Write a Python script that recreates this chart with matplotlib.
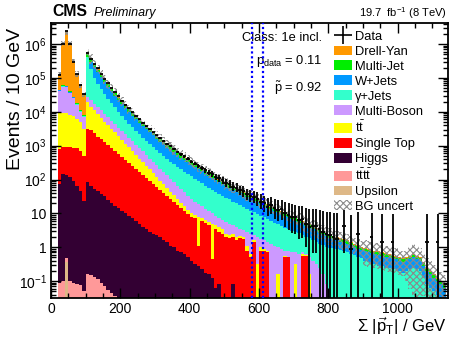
import numpy as np
import matplotlib
matplotlib.use('Agg')
import matplotlib.pyplot as plt
from matplotlib.patches import Patch
from matplotlib.lines import Line2D
from matplotlib.ticker import MultipleLocator, LogLocator, NullFormatter

plt.rcParams['font.family'] = ['Liberation Sans', 'DejaVu Sans']
plt.rcParams['mathtext.fontset'] = 'custom'
plt.rcParams['mathtext.rm'] = 'Liberation Sans'
plt.rcParams['mathtext.it'] = 'Liberation Sans:italic'
plt.rcParams['mathtext.bf'] = 'Liberation Sans:bold'
plt.rcParams['hatch.linewidth'] = 0.8

# 10 GeV bins, 20 .. 1140 GeV
edges = np.arange(20, 1150, 10)
centers = 0.5 * (edges[1:] + edges[:-1])

NA = np.nan
# log10 of the stacked height after adding each process (top of stack first)
top_dy = [5.10, 6.00, 6.38, 6.00, 5.47, 5.12, 4.80, 4.52,
          5.74, 5.58, 5.42, 5.27, 5.12, 4.98, 4.84, 4.71, 4.58, 4.45,
          4.33, 4.21, 4.10, 3.99, 3.88, 3.78, 3.68, 3.58, 3.49, 3.40,
          3.31, 3.22, 3.14, 3.06, 2.98, 2.90, 2.82, 2.75, 2.68, 2.61,
          2.54, 2.47, 2.40, 2.34, 2.27, 2.21, 2.15, 2.09, 2.03, 1.97,
          1.91, 1.86, 1.80, 1.75, 1.69, 1.64, 1.58, 1.53, 1.48, 1.43,
          1.38, 1.33, 1.28, 1.23, 1.18, 1.13, 1.08, 1.03, 0.98, 0.93,
          0.88, 0.83, 0.78, 0.73, 0.68, 0.63, 0.58, 0.53, 0.48, 0.43,
          0.38, 0.34, 0.30, 0.26, 0.23, 0.20, 0.16, 0.11, 0.06, 0.02,
          -0.02, -0.05, -0.08, -0.10, -0.12, -0.15, -0.18, -0.20, -0.22, -0.25,
          -0.30, -0.33, -0.30, -0.25, -0.20, -0.25, -0.30, -0.45, -0.60, -0.70,
          -0.80, -0.90, -1.00, -1.10]
top_mj = [4.65, 4.78, 4.77, 4.60, 4.45, 4.25, 4.05, 3.90,
          5.71, 5.55, 5.39, 5.24, 5.09, 4.95, 4.81, 4.68, 4.55, 4.42,
          4.30, 4.18, 4.07, 3.96, 3.85, 3.75, 3.65, 3.55, 3.46, 3.37,
          3.28, 3.19, 3.11, 3.03, 2.95, 2.87, 2.79, 2.72, 2.65, 2.58,
          2.51, 2.44, 2.37, 2.31, 2.24, 2.18, 2.12, 2.06, 2.00, 1.94,
          1.88, 1.83, 1.77, 1.72, 1.66, 1.61, 1.55, 1.50, 1.45, 1.40,
          1.35, 1.30, 1.25, 1.20, 1.15, 1.10, 1.05, 1.00, 0.95, 0.90,
          0.85, 0.80, 0.75, 0.70, 0.65, 0.60, 0.55, 0.50, 0.45, 0.40,
          0.35, 0.31, 0.27, 0.23, 0.20, 0.17, 0.13, 0.08, 0.03, -0.01,
          -0.05, -0.08, -0.11, -0.13, -0.15, -0.18, -0.21, -0.23, -0.25, -0.28,
          -0.33, -0.36, -0.33, -0.28, -0.23, -0.28, -0.33, -0.48, -0.63, -0.73,
          -0.83, -0.93, -1.03, -1.13]
top_wj = [4.63, 4.76, 4.75, 4.58, 4.43, 4.23, 4.03, 3.88,
          5.61, 5.47, 5.32, 5.17, 5.02, 4.88, 4.74, 4.61, 4.48, 4.35,
          4.23, 4.11, 4.00, 3.89, 3.78, 3.68, 3.58, 3.48, 3.39, 3.30,
          3.21, 3.12, 3.04, 2.96, 2.88, 2.80, 2.72, 2.65, 2.58, 2.51,
          2.44, 2.37, 2.30, 2.24, 2.17, 2.11, 2.05, 1.99, 1.93, 1.87,
          1.81, 1.76, 1.70, 1.65, 1.59, 1.54, 1.48, 1.43, 1.38, 1.33,
          1.28, 1.23, 1.18, 1.13, 1.08, 1.03, 0.98, 0.93, 0.88, 0.83,
          0.78, 0.73, 0.68, 0.63, 0.58, 0.53, 0.48, 0.43, 0.38, 0.33,
          0.28, 0.24, 0.20, 0.16, 0.13, 0.10, 0.06, 0.01, -0.04, -0.08,
          -0.12, -0.15, -0.18, -0.20, -0.22, -0.25, -0.28, -0.30, -0.32, -0.35,
          -0.40, -0.43, -0.40, -0.35, -0.30, -0.35, -0.40, -0.55, -0.70, -0.80,
          -0.90, -1.00, -1.10, -1.20]
top_gj = [4.62, 4.75, 4.74, 4.57, 4.42, 4.22, 4.02, 3.87,
          5.61, 5.25, 5.00, 4.82, 4.67, 4.53, 4.39, 4.26, 4.13, 4.00,
          3.88, 3.76, 3.65, 3.54, 3.43, 3.33, 3.23, 3.13, 3.04, 2.95,
          2.86, 2.77, 2.69, 2.61, 2.53, 2.45, 2.37, 2.30, 2.23, 2.16,
          2.09, 2.02, 1.95, 1.89, 1.82, 1.76, 1.70, 1.64, 1.58, 1.52,
          1.46, 1.41, 1.35, 1.30, 1.24, 1.19, 1.13, 1.08, 1.03, 0.98,
          0.93, 0.88, 0.83, 0.78, 0.73, 0.68, 0.63, 0.58, 0.53, 0.48,
          0.46, 0.41, 0.36, 0.31, 0.26, 0.21, 0.16, 0.11, 0.06, 0.01,
          -0.01, -0.03, -0.05, -0.09, -0.12, -0.15, -0.19, -0.24, -0.29, -0.33,
          -0.40, -0.45, -0.50, -0.50, -0.55, -0.55, -0.60, -0.60, -0.65, -0.65,
          -0.70, -0.75, -0.70, -0.65, -0.60, -0.65, -0.70, -0.90, -1.10, -1.20,
          -1.30, -1.40, -1.50, -1.60]
top_mb = [4.60, 4.73, 4.72, 4.55, 4.40, 4.20, 4.00, 3.85,
          4.45, 4.34, 4.24, 4.14, 4.04, 3.94, 3.84, 3.73, 3.63, 3.53,
          3.43, 3.33, 3.23, 3.13, 3.03, 2.93, 2.83, 2.72, 2.62, 2.52,
          2.42, 2.32, 2.22, 2.12, 2.02, 1.92, 1.82, 1.72, 1.62, 1.52,
          1.42, 1.35, 1.28, 1.21, 1.14, 1.07, 1.00, 0.93, 0.86, 0.79,
          0.75, 0.70, 0.65, 0.60, 0.55, 0.50, 0.45, 0.40, 0.35, 0.30,
          0.25, 0.20, 0.15, 0.10, 0.05, 0.00, -0.05, -0.10, -0.12, -0.15,
          -0.15, -0.20, -0.15, -0.20, -0.30, -0.40, -0.50, -0.60, -0.80, -1.10] + [-3] * 34
top_tt = [3.95, 3.97, 3.95, 3.92, 3.88, 3.80, 3.70, 3.50,
          4.30, 4.15, 4.04, 3.93, 3.82, 3.71, 3.60, 3.50, 3.39, 3.28,
          3.17, 3.06, 2.95, 2.84, 2.73, 2.62, 2.51, 2.41, 2.30, 2.19,
          2.08, 1.97, 1.86, 1.75, 1.64, 1.53, 1.42, 1.32, 1.21, 1.10,
          1.00, 0.95, 0.90, 0.85, 0.80, 0.75, 0.70, 0.65, 0.60, 0.55,
          0.40, 0.35, 0.38, 0.30, 0.32, 0.30, 0.05, -0.20, 0.20, -0.50,
          0.00, -0.05, -0.10, -3, -3, -0.80, -3, -0.25, -0.30, -3,
          -0.50, -3, -0.20, -0.22, -0.80, -3, -3, -3, -3, -3] + [-3] * 34
top_st = [2.90, 2.96, 2.96, 2.96, 2.94, 2.92, 2.85, 2.70,
          3.50, 3.45, 3.36, 3.27, 3.19, 3.10, 3.01, 2.92, 2.83, 2.75,
          2.66, 2.57, 2.48, 2.39, 2.31, 2.22, 2.13, 2.04, 1.95, 1.87,
          1.78, 1.69, 1.60, 1.51, 1.43, 1.34, 1.25, 1.16, 1.07, 0.99,
          0.90, 0.85, 0.05, 0.78, 0.72, 0.66, -0.35, 0.54, 0.46, 0.38,
          0.30, 0.28, 0.30, 0.22, 0.28, 0.25, -0.10, -0.30, 0.15, -3,
          -0.10, -0.10, -0.15, -3, -3, -3, -3, -0.30, -0.30, -3,
          -3, -3, -0.25, -0.27, -3, -3, -3, -3, -3, -3] + [-3] * 34
top_higgs = [1.88, 2.17, 2.12, 2.07, 1.95, 1.80, 1.65, 1.38,
             1.93, 1.80, 1.72, 1.65, 1.58, 1.50, 1.40, 1.30, 1.22, 1.15,
             1.07, 1.00, 0.93, 0.85, 0.77, 0.70, 0.60, 0.55, 0.45, 0.40,
             0.35, 0.30, 0.20, 0.15, 0.05, 0.00, -0.10, -0.15, -0.20, -0.30,
             -0.40, -0.50, -0.55, -0.65, -0.75, -0.80, -0.90, -1.20, -1.10, -1.50,
             -3, -3, -1.10] + [-3] * 61
top_tttt = [-1.05, -1.01, -0.31, -1.00, -1.05, -1.10, -1.13, -1.28,
            -0.79, -0.82, -0.88, -0.95, -1.05, -1.15, -1.25, -1.35, -1.45, -1.60] + [-3] * 94
top_ups = [-3, -3, -0.44] + [-3] * 109

# observed events per 10 GeV (log10), empty bins as NA
data_log = [5.10, 6.00, 6.38, 6.00, 5.47, 5.12, 4.80, 4.52,
            5.74, 5.57, 5.42, 5.28, 5.12, 4.97, 4.84, 4.71, 4.58, 4.46,
            4.33, 4.21, 4.10, 3.98, 3.88, 3.78, 3.68, 3.57, 3.49, 3.40,
            3.30, 3.22, 3.14, 3.05, 2.98, 2.91, 2.82, 2.74, 2.68, 2.61,
            2.53, 2.47, 2.41, 2.33, 2.27, 2.20, 2.16, 2.08, 2.03, 1.98,
            1.90, 1.87, 1.79, 1.76, 1.68, 1.65, 1.57, 1.52, 1.49, 1.43,
            1.35, 1.30, 1.20, 1.24, 1.15, 1.10, 1.12, 1.00, 0.95, 0.90,
            0.88, 0.80, 0.82, 0.70, 0.60, 0.64, 0.64, 0.55, 0.45, 0.40,
            0.35, 0.30, 0.25, NA, 0.64, NA, -0.04, NA, 0.40, NA,
            NA, NA, 0.30, NA, NA, 0.15, NA, NA, 0.15, NA,
            NA, NA, NA, NA, NA, NA, NA, NA, 0.15, NA,
            NA, 0.15, NA, NA]
# average event weight behind one entry, sets the size of the Poisson bars
data_weight = 4.0

# relative background uncertainty per bin
bg_unc = ([0.20] * 8 + [0.30] * 20 + [0.32] * 20 + [0.38] * 20 + [0.50] * 20 + [0.70] * 10
          + [0.70, 0.70, 0.80, 0.90, 0.95, 0.95, 0.95, 0.90, 0.90, 0.90] + [0.90] * 4)

stack = [
    ('Drell-Yan', '#ff9900', top_dy),
    ('Multi-Jet', '#00ee00', top_mj),
    ('W+Jets', '#0099ff', top_wj),
    ('γ+Jets', '#33ffcc', top_gj),
    ('Multi-Boson', '#cc99ff', top_mb),
    (r'$\mathrm{t\bar{t}}$', '#ffff00', top_tt),
    ('Single Top', '#ff0000', top_st),
    ('Higgs', '#330033', top_higgs),
    (r'$\mathrm{t\bar{t}t\bar{t}}$', '#ff9999', top_tttt),
    ('Upsilon', '#deb887', top_ups),
]

fig = plt.figure(figsize=(4.49, 3.38), dpi=100)
ax = fig.add_axes([0.1136, 0.118, 0.8842, 0.814])
floor = 1e-3

for name, color, top in stack:
    ax.stairs(10.0 ** np.array(top), edges, baseline=floor, fill=True,
              color=color, lw=0)

# background uncertainty band
total = 10.0 ** np.array(top_dy)
unc = np.array(bg_unc)
ax.stairs(total * (1 + unc), edges, baseline=total * (1 - unc) + floor, fill=True,
          facecolor='none', edgecolor='#8a8a8a', hatch='xxxxx', lw=0)

# data with approximate Poisson bars
d = 10.0 ** np.array(data_log)
ok = ~np.isnan(d)
n = d[ok] / data_weight
hi = data_weight * (np.sqrt(n + 0.75) + 1.0)
lo = np.where(n > 1.0, data_weight * np.sqrt(np.maximum(n - 0.25, 0)), d[ok] - floor)
lo = np.minimum(lo, d[ok] - floor)
ax.errorbar(centers[ok], d[ok], xerr=5, yerr=[lo, hi], fmt='none',
            ecolor='black', elinewidth=1.3, capsize=0, zorder=5)

# region of interest
for xr in (580, 610):
    ax.axvline(xr, color='#0000ff', ls=(0, (1, 1.2)), lw=1.6, zorder=6)

ax.set_yscale('log')
ax.set_xlim(0, 1145)
ax.set_ylim(0.0314, 4.2e6)

ax.set_xticks([0, 200, 400, 600, 800, 1000])
ax.xaxis.set_minor_locator(MultipleLocator(50))
ax.set_yticks([0.1, 1, 10, 1e2, 1e3, 1e4, 1e5, 1e6])
ax.set_yticklabels(['10$^{-1}$', '1', '10', '10$^{2}$', '10$^{3}$',
                    '10$^{4}$', '10$^{5}$', '10$^{6}$'])
ax.yaxis.set_minor_locator(LogLocator(base=10, subs=np.arange(2, 10)))
ax.yaxis.set_minor_formatter(NullFormatter())
ax.tick_params(which='both', direction='in', top=True, right=True,
               labelsize=10, width=1)
ax.tick_params(which='major', length=7, pad=3)
ax.tick_params(which='minor', length=3.5)
for sp in ax.spines.values():
    sp.set_linewidth(1.3)

fig.text(15 / 449, 1 - 99 / 338, 'Events / 10 GeV', rotation=90,
         ha='center', va='center', fontsize=14)
fig.text(447 / 449, 1 - 326 / 338, r'$\Sigma$ |$\vec{\mathrm{p}}_{\mathrm{T}}$| / GeV',
         ha='right', va='center', fontsize=12)
fig.text(52 / 449, 1 - 12 / 338, 'CMS', fontweight='bold', fontsize=11.3,
         ha='left', va='center')
fig.text(94 / 449, 1 - 13 / 338, 'Preliminary', fontstyle='italic', fontsize=9,
         ha='left', va='center')
fig.text(447 / 449, 1 - 13 / 338, '19.7  fb$^{-1}$ (8 TeV)', fontsize=8,
         ha='right', va='center')

ax.text(0.683, 0.945, 'Class: 1e incl.', transform=ax.transAxes,
        ha='right', va='center', fontsize=9.3)
ax.text(0.683, 0.862, r'$\mathrm{p}_{\mathrm{data}}$ = 0.11', transform=ax.transAxes,
        ha='right', va='center', fontsize=9.3)
ax.text(0.683, 0.764, r'$\tilde{\mathrm{p}}$ = 0.92', transform=ax.transAxes,
        ha='right', va='center', fontsize=9.3)

handles = [Line2D([], [], color='black', marker='+', ms=13, mew=1.2, ls='none')]
labels = ['Data']
for name, color, top in stack:
    handles.append(Patch(facecolor=color, edgecolor='none'))
    labels.append(name)
handles.append(Patch(facecolor='white', edgecolor='#8a8a8a', hatch='xxxxx', lw=0))
labels.append('BG uncert')
ax.legend(handles, labels, loc='upper left', bbox_to_anchor=(0.712, 0.972),
          frameon=False, fontsize=9.3, handlelength=1.4, handleheight=0.8,
          handletextpad=0.25, labelspacing=0.19, borderaxespad=0, borderpad=0)

fig.savefig('out.png', dpi=100)
